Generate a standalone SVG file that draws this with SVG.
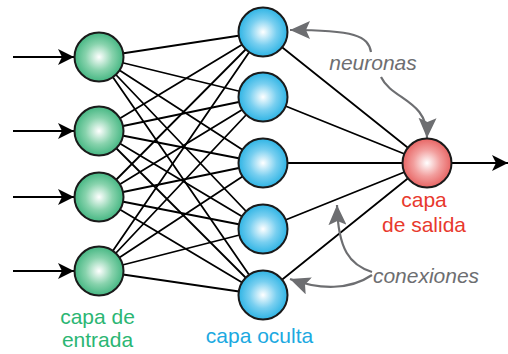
<svg xmlns="http://www.w3.org/2000/svg" width="508" height="354" viewBox="0 0 508 354">
<style>
.c{stroke:#000;stroke-width:1.8;fill:none}
.n{stroke:#1a1a1a;stroke-width:2}
.g{stroke:#6d6e71;stroke-width:2.2;fill:none}
text{font-family:"Liberation Sans",Arial,sans-serif}
.lab{font-size:21px}
.note{font-size:21px;font-style:italic;fill:#6d6e71}
</style>
<defs>
<radialGradient id="gg" cx="0.5" cy="0.5" r="0.55"><stop offset="0" stop-color="#ffffff"/><stop offset="0.5" stop-color="#88d3ad"/><stop offset="1" stop-color="#36b079"/></radialGradient>
<radialGradient id="gb" cx="0.5" cy="0.5" r="0.55"><stop offset="0" stop-color="#ffffff"/><stop offset="0.5" stop-color="#78cff0"/><stop offset="1" stop-color="#1eaee2"/></radialGradient>
<radialGradient id="gr" cx="0.5" cy="0.5" r="0.55"><stop offset="0" stop-color="#ffffff"/><stop offset="0.5" stop-color="#f29e9d"/><stop offset="1" stop-color="#e55857"/></radialGradient>
<marker id="ab" viewBox="0 0 16 16" refX="16" refY="8" markerWidth="16" markerHeight="16" markerUnits="userSpaceOnUse" orient="auto"><path d="M0,0 L16,8 L0,16 L4,8 Z" fill="#000"/></marker>
<marker id="ag" viewBox="0 0 20 18" refX="20" refY="9" markerWidth="20" markerHeight="18" markerUnits="userSpaceOnUse" orient="auto"><path d="M0,0 L20,9 L0,18 L4,9 Z" fill="#6d6e71"/></marker>
</defs>
<g id="connectors">
<path class="c" d="M99,57L263,32M99,57L263,97M99,57L263,163M99,57L263,229M99,57L263,295"/>
<path class="c" d="M99,131L263,32M99,131L263,97M99,131L263,163M99,131L263,229M99,131L263,295"/>
<path class="c" d="M99,197L263,32M99,197L263,97M99,197L263,163M99,197L263,229M99,197L263,295"/>
<path class="c" d="M99,271L263,32M99,271L263,97M99,271L263,163M99,271L263,229M99,271L263,295"/>
<path class="c" d="M263,32L427,163M263,97L427,163M263,163L427,163M263,229L427,163M263,295L427,163"/>
<path class="c" marker-end="url(#ab)" d="M13,57L74,57"/>
<path class="c" marker-end="url(#ab)" d="M13,131L74,131"/>
<path class="c" marker-end="url(#ab)" d="M13,197L74,197"/>
<path class="c" marker-end="url(#ab)" d="M13,271L74,271"/>
<path class="c" marker-end="url(#ab)" d="M452,163L508,163"/>
<path class="g" marker-end="url(#ag)" d="M371,52C368,36 355,30 290,30"/>
<path class="g" marker-end="url(#ag)" d="M381,77C392,100 428,100 427,138"/>
<path class="g" marker-end="url(#ag)" d="M372,272C350,265 338,250 337,205"/>
<path class="g" marker-end="url(#ag)" d="M372,275C350,290 320,290 290,279"/>
</g>
<g id="in1"><circle class="n" cx="99" cy="57" r="24.5" fill="url(#gg)"/></g>
<g id="in2"><circle class="n" cx="99" cy="131" r="24.5" fill="url(#gg)"/></g>
<g id="in3"><circle class="n" cx="99" cy="197" r="24.5" fill="url(#gg)"/></g>
<g id="in4"><circle class="n" cx="99" cy="271" r="24.5" fill="url(#gg)"/></g>
<g id="h1"><circle class="n" cx="263" cy="32" r="24.5" fill="url(#gb)"/></g>
<g id="h2"><circle class="n" cx="263" cy="97" r="24.5" fill="url(#gb)"/></g>
<g id="h3"><circle class="n" cx="263" cy="163" r="24.5" fill="url(#gb)"/></g>
<g id="h4"><circle class="n" cx="263" cy="229" r="24.5" fill="url(#gb)"/></g>
<g id="h5"><circle class="n" cx="263" cy="295" r="24.5" fill="url(#gb)"/></g>
<g id="out"><circle class="n" cx="427" cy="163" r="24.5" fill="url(#gr)"/></g>
<g id="labels">
<text class="note" x="373" y="70" text-anchor="middle">neuronas</text>
<text class="note" x="426" y="283" text-anchor="middle">conexiones</text>
<text class="lab" x="424" y="207" text-anchor="middle" fill="#e8392d">capa</text>
<text class="lab" x="424" y="232" text-anchor="middle" fill="#e8392d">de salida</text>
<text class="lab" x="97.5" y="324" text-anchor="middle" fill="#2bb673">capa de</text>
<text class="lab" x="97.5" y="347" text-anchor="middle" fill="#2bb673">entrada</text>
<text class="lab" x="259.5" y="343" text-anchor="middle" fill="#1ca9e1">capa oculta</text>
</g>
</svg>
